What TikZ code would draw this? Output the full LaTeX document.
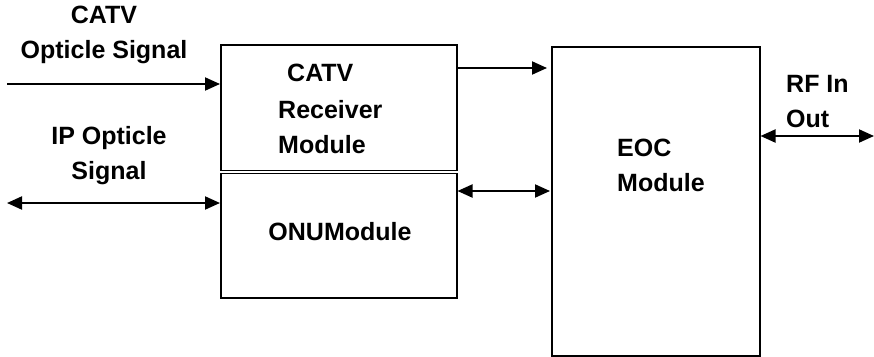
\documentclass[tikz,border=0pt]{standalone}
\usepackage{fontspec}
\setmainfont{Liberation Sans}
\usetikzlibrary{arrows.meta}
\begin{document}
\begin{tikzpicture}[x=1pt,y=-1pt,
  block/.style={draw,line width=1.5pt,inner sep=0pt,minimum width=#1},
  lbl/.style={font=\fontsize{25}{35}\selectfont\bfseries,inner sep=0pt,align=center},
  sig/.style={line width=2pt,-{Triangle[length=15pt,width=13pt]}},
  bisig/.style={line width=2pt,{Triangle[length=15pt,width=13pt]}-{Triangle[length=15pt,width=13pt]}}]
\useasboundingbox (0,0) rectangle (874,356);
% module boxes (receiver and ONU share a double rule)
\node[block=236pt,minimum height=125.5pt,anchor=north west] (rx) at (220,44) {};
\node[block=236pt,minimum height=124.5pt,anchor=north west] (onu) at (220,172.5) {};
\node[block=208pt,minimum height=309pt,anchor=north west] (eoc) at (551,46) {};
% free ends of the external signal lines
\coordinate (catvin) at (7,84);
\coordinate (ipin) at (7,203);
\coordinate (rfout) at (874,136);
% connectors
\draw[sig] (catvin) -- (catvin -| rx.west);
\draw[bisig] (ipin) -- (ipin -| onu.west);
\draw[sig] (rx.east |- 0,68) -- ([xshift=-4pt]eoc.west |- 0,68);
\draw[bisig] (onu.east |- 0,191) -- ([xshift=-1pt]eoc.west |- 0,191);
\draw[bisig] (eoc.east |- rfout) -- (rfout);
% labels
\node[lbl] (catvlbl) at (104,35) {CATV\\Opticle Signal};
\node[lbl] (iplbl) at (109,156) {IP Opticle\\Signal};
\node[lbl,anchor=west] (rxa) at (287,73) {CATV};
\node[lbl,align=left,anchor=west] (rxb) at (278,127) {Receiver\\Module};
\node[lbl] (onulbl) at (340,232) {ONUModule};
\node[lbl,align=left,anchor=west] (eoclbl) at (617,165) {EOC\\Module};
\node[lbl,align=left,anchor=west] (rflbl) at (786,102) {RF In\\Out};
\end{tikzpicture}
\end{document}
